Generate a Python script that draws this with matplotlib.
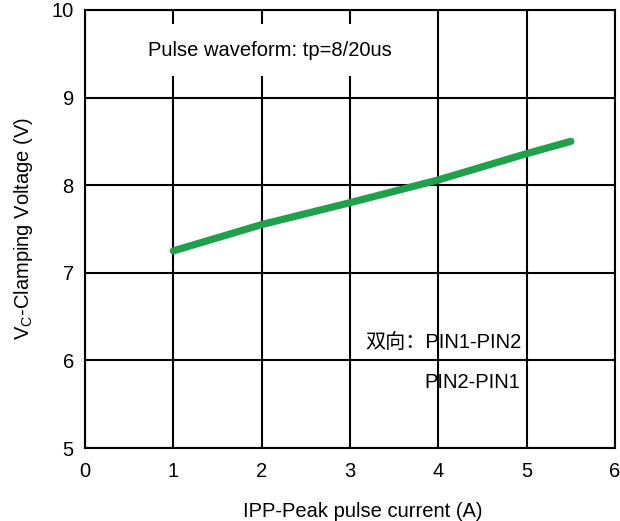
import matplotlib
matplotlib.use("Agg")
import matplotlib.pyplot as plt

# current (A) vs clamping voltage (V)
ipp = [1, 2, 3, 4, 5, 5.5]
vc = [7.25, 7.55, 7.80, 8.06, 8.36, 8.50]
xticks = [0, 1, 2, 3, 4, 5, 6]
yticks = [5, 6, 7, 8, 9, 10]

plt.rcParams['font.family'] = ['Liberation Sans', 'Noto Sans CJK SC', 'DejaVu Sans']
fs = 14.5

fig = plt.figure(figsize=(6.2, 5.21), dpi=100)
ax = fig.add_axes([0.137, 0.140, 0.855, 0.841])

ax.plot(ipp, vc, color='#1fa04a', lw=5.2, solid_capstyle='round', zorder=3)

ax.set_xlim(0, 6)
ax.set_ylim(5, 10)
ax.set_xticks(xticks)
ax.set_yticks(yticks)
ax.grid(True, color='black', lw=1.5)
ax.set_axisbelow(True)
for s in ax.spines.values():
    s.set_linewidth(1.5)
ax.tick_params(length=0, labelsize=fs, pad=8)
ax.tick_params(axis='x', pad=10)

ax.set_xlabel('IPP-Peak pulse current (A)', fontsize=fs, labelpad=15)
ax.xaxis.label.set_x(0.525)
ax.set_ylabel('V$_\\mathregular{C}$-Clamping Voltage (V)', fontsize=fs, labelpad=12)

ax.text(0.71, 9.54, 'Pulse waveform: tp=8/20us', fontsize=fs, va='center', ha='left',
        bbox=dict(facecolor='white', edgecolor='none', pad=12), zorder=4)
ax.text(3.17, 6.21, '双向：PIN1-PIN2', fontsize=fs, va='center', ha='left', zorder=4)
ax.text(3.84, 5.75, 'PIN2-PIN1', fontsize=fs, va='center', ha='left', zorder=4)

fig.savefig('out.png', dpi=100)
